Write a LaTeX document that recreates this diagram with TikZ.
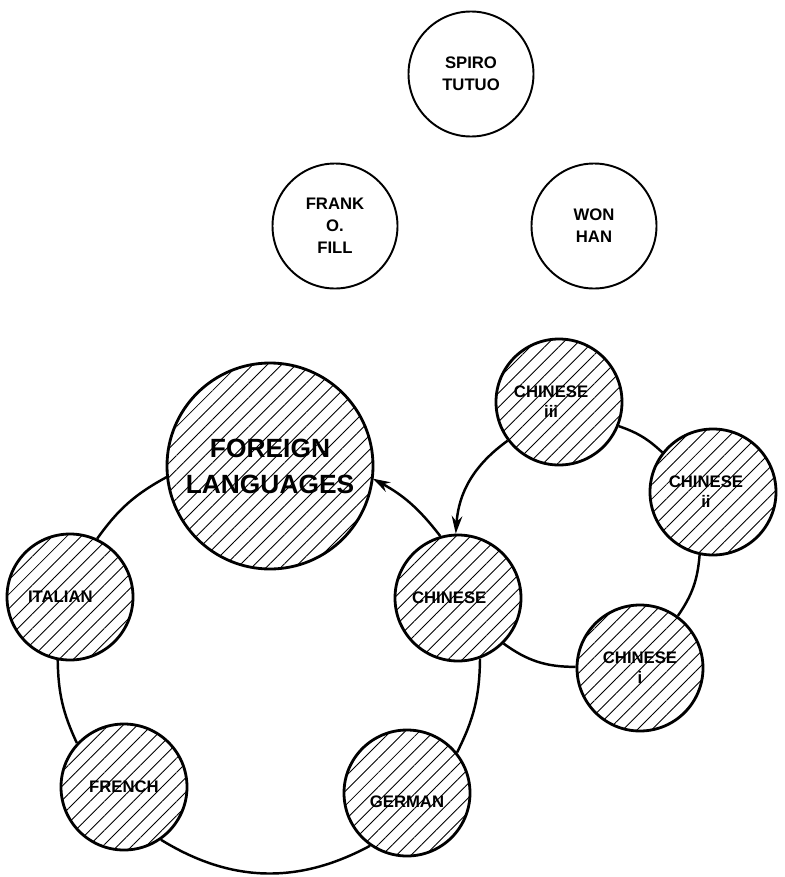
\documentclass[tikz,border=0pt]{standalone}
\usepackage{fontspec}
\setmainfont{Liberation Sans}
\usetikzlibrary{arrows.meta,patterns.meta}

\begin{document}
\begin{tikzpicture}[scale=0.2,
        person/.style={draw, circle, line width=1.1pt, minimum size=2.5cm, inner sep=0pt, align=center, font=\bfseries\fontsize{9.5}{12.5}\selectfont},
        lang/.style={draw, circle, line width=1.6pt, minimum size=2.52cm, inner sep=0pt, align=center, font=\bfseries\fontsize{9.5}{11.4}\selectfont, pattern={Lines[angle=45,distance=5.8pt,line width=0.5pt]}},
        link/.style={line width=1.4pt},
        tip/.style={-{Stealth[length=10pt,width=6pt]}}]
        \useasboundingbox (0,0) rectangle (78.4,-87.7);
        \node [person] (spiro) at (47.1,-7.4) {SPIRO\\TUTUO};
        \node [person] (frank) at (33.5,-22.6) {FRANK\\O.\\FILL};
        \node [person] (won) at (59.4,-22.6) {WON\\HAN};
        \node [lang, minimum size=4.12cm, font=\bfseries\fontsize{15}{20.5}\selectfont] (forlang) at (27.0,-46.6) {FOREIGN\\LANGUAGES};
        \node [lang] (italian) at (7.0,-59.7) {ITALIAN\hspace*{11pt}};
        \node [lang] (french) at (12.4,-78.7) {FRENCH};
        \node [lang] (german) at (40.7,-79.3) {\raisebox{-5pt}[\height][\depth]{GERMAN}};
        \node [lang] (chinese) at (45.8,-59.8) {CHINESE\hspace*{10pt}};
        \node [lang] (chinese3) at (55.9,-40.2) {CHINESE\hspace*{9pt}\\iii\hspace*{9pt}};
        \node [lang] (chinese2) at (71.3,-49.2) {CHINESE\hspace*{8pt}\\ii\hspace*{8pt}};
        \node [lang] (chinese1) at (64.0,-66.8) {CHINESE\\i};
        \draw [link] (italian.65) to [bend left=13] (forlang.186);
        \draw [link, tip] (chinese.106) to [bend right=12] (forlang.-7);
        \draw [link] (chinese.-70) to [bend left=13] (german.39);
        \draw [link] (german.235) to [bend left=30] (french.-55);
        \draw [link] (french.137) to [bend left=12] (italian.259);
        \draw [link, tip] (chinese3.217) to [bend right=25] (chinese.92);
        \draw [link] (chinese3.-22) to [bend left=12] (chinese2.142);
        \draw [link] (chinese2.258) to [bend left=15] (chinese1.54);
        \draw [link] (chinese1.179) to [bend left=18] (chinese.-45);
\end{tikzpicture}
\end{document}
